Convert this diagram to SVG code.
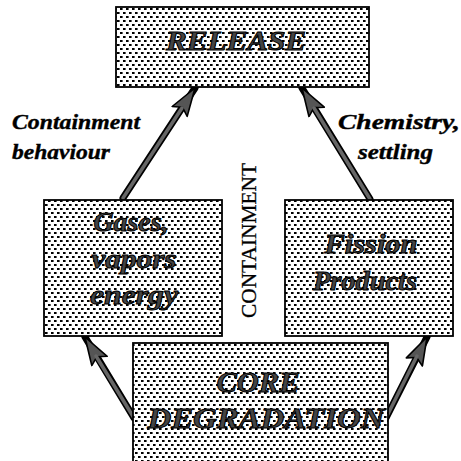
<svg xmlns="http://www.w3.org/2000/svg" width="461" height="461" viewBox="0 0 461 461">
<defs>
<pattern id="dots" patternUnits="userSpaceOnUse" width="6" height="8">
<rect width="6" height="8" fill="#fff"/>
<rect x="0" y="0" width="2.6" height="2" fill="#000"/>
<rect x="3" y="4" width="2.6" height="2" fill="#000"/>
</pattern>
<marker id="head" markerUnits="userSpaceOnUse" viewBox="0 0 30 20" refX="29" refY="10" markerWidth="30" markerHeight="20" orient="auto">
<polygon points="1,1 29,10 1,19 6,10" fill="#555" stroke="#000" stroke-width="1.6" stroke-linejoin="round"/>
</marker>
</defs>
<style>
.box{fill:url(#dots);stroke:#000;stroke-width:1.8}
.nt{font-family:"Liberation Serif",serif;font-weight:bold;font-style:italic;fill:#444;stroke:#000;stroke-width:1;text-anchor:middle}
.lbl{font-family:"Liberation Serif",serif;font-weight:bold;font-style:italic;fill:#000;stroke:#000;stroke-width:0.4;font-size:22px}
.shaft{stroke:#000;stroke-width:7;stroke-linecap:round;fill:none}
.inner{stroke:#666;stroke-width:3.5;stroke-linecap:round;fill:none}
.vt{font-family:"Liberation Serif",serif;fill:#000;stroke:#000;stroke-width:0.3;font-size:20px}
</style>
<g id="connectors">
<line class="shaft" x1="123" y1="198" x2="195" y2="88" marker-end="url(#head)"/>
<line class="inner" x1="123" y1="198" x2="182" y2="108"/>
<line class="shaft" x1="370" y1="199" x2="302" y2="88" marker-end="url(#head)"/>
<line class="inner" x1="370" y1="199" x2="314" y2="108"/>
<line class="shaft" x1="134" y1="418" x2="85" y2="337" marker-end="url(#head)"/>
<line class="inner" x1="134" y1="418" x2="96" y2="356"/>
<line class="shaft" x1="386" y1="418" x2="427" y2="337" marker-end="url(#head)"/>
<line class="inner" x1="386" y1="418" x2="417" y2="356"/>
</g>
<g id="release">
<rect class="box" x="116" y="7" width="253" height="80"/>
<text class="nt" x="236" y="50" font-size="28" textLength="140" lengthAdjust="spacingAndGlyphs">RELEASE</text>
</g>
<g id="gases">
<rect class="box" x="44" y="200" width="178" height="136"/>
<text class="nt" x="131" y="231" font-size="28" textLength="75" lengthAdjust="spacingAndGlyphs">Gases,</text>
<text class="nt" x="134" y="268" font-size="28" textLength="85" lengthAdjust="spacingAndGlyphs">vapors</text>
<text class="nt" x="134" y="304" font-size="28" textLength="88" lengthAdjust="spacingAndGlyphs">energy</text>
</g>
<g id="fission">
<rect class="box" x="285" y="200" width="168" height="136"/>
<text class="nt" x="371" y="253" font-size="28" textLength="93" lengthAdjust="spacingAndGlyphs">Fission</text>
<text class="nt" x="365" y="290" font-size="28" textLength="104" lengthAdjust="spacingAndGlyphs">Products</text>
</g>
<g id="core">
<rect class="box" x="133" y="343" width="255" height="130"/>
<text class="nt" x="258" y="392" font-size="29" textLength="83" lengthAdjust="spacingAndGlyphs">CORE</text>
<text class="nt" x="266" y="428" font-size="29" textLength="237" lengthAdjust="spacingAndGlyphs">DEGRADATION</text>
</g>
<g id="labels">
<text class="lbl" x="12" y="129" textLength="128" lengthAdjust="spacingAndGlyphs">Containment</text>
<text class="lbl" x="12" y="159" textLength="98" lengthAdjust="spacingAndGlyphs">behaviour</text>
<text class="lbl" x="338" y="129" textLength="122" lengthAdjust="spacingAndGlyphs">Chemistry,</text>
<text class="lbl" x="358" y="159" textLength="75" lengthAdjust="spacingAndGlyphs">settling</text>
<text class="vt" transform="translate(256,318) rotate(-90)" textLength="155" lengthAdjust="spacingAndGlyphs">CONTAINMENT</text>
</g>
</svg>
